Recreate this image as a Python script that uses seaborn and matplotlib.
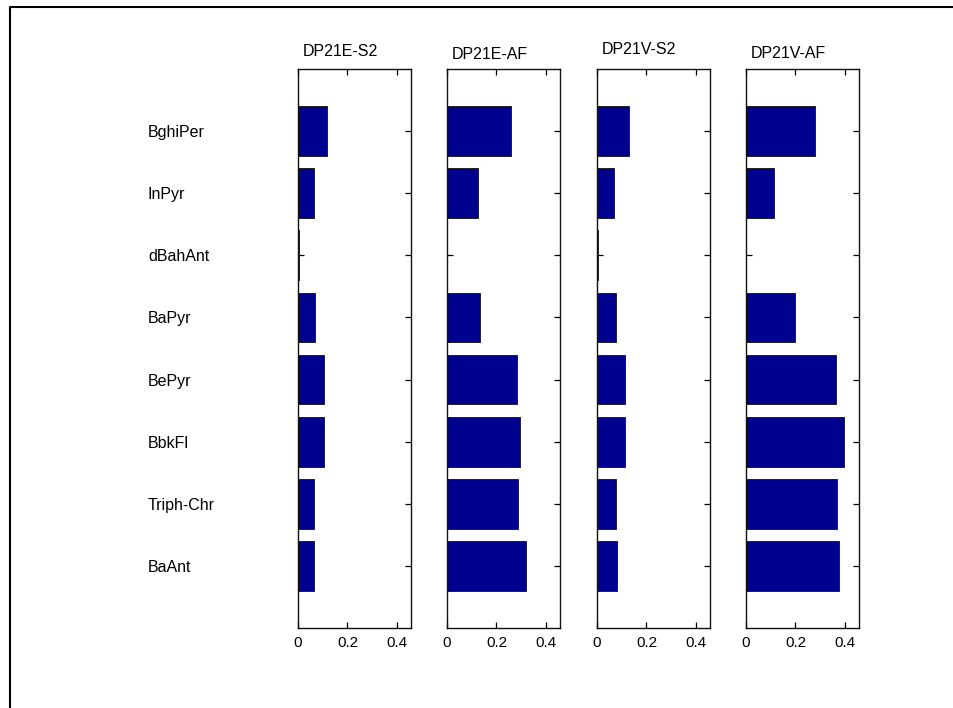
import matplotlib
matplotlib.use("Agg")
import matplotlib.pyplot as plt
from matplotlib.lines import Line2D
from matplotlib.transforms import offset_copy
import pandas as pd
import seaborn as sns

# PAH compounds, listed top to bottom
categories = ["BghiPer", "InPyr", "dBahAnt", "BaPyr", "BePyr", "BbkFl", "Triph-Chr", "BaAnt"]
samples = ["DP21E-S2", "DP21E-AF", "DP21V-S2", "DP21V-AF"]

dp21e_s2 = [0.116, 0.066, 0.004, 0.070, 0.104, 0.104, 0.066, 0.066]
dp21e_af = [0.257, 0.127, 0.000, 0.135, 0.285, 0.294, 0.287, 0.319]
dp21v_s2 = [0.130, 0.070, 0.004, 0.077, 0.113, 0.113, 0.078, 0.082]
dp21v_af = [0.278, 0.115, 0.000, 0.197, 0.362, 0.395, 0.368, 0.378]

x_ticks = [0, 0.2, 0.4]
x_ticklabels = ["0", "0.2", "0.4"]

series = [dp21e_s2, dp21e_af, dp21v_s2, dp21v_af]

sns.set_style("white")
plt.rcParams["font.family"] = ["Liberation Sans", "DejaVu Sans"]
plt.rcParams["text.color"] = "black"
plt.rcParams["xtick.color"] = "black"
plt.rcParams["ytick.color"] = "black"
plt.rcParams["xtick.labelcolor"] = "black"
plt.rcParams["ytick.labelcolor"] = "black"

W, H = 954, 708
fig = plt.figure(figsize=(W / 100, H / 100), dpi=100)
fig.patch.set_facecolor("white")

# panel geometry in pixels
lefts = [298, 447, 597, 746]
panel_w = 113
top_px, bottom_px = 69, 628
title_rise = [12.5, 10, 14.5, 11]  # pixels between top spine and title baseline

bar_color = "#00008F"

for i, (name, vals) in enumerate(zip(samples, series)):
    ax = fig.add_axes([lefts[i] / W, 1 - bottom_px / H, panel_w / W, (bottom_px - top_px) / H])
    df = pd.DataFrame({"compound": categories, "value": vals})
    sns.barplot(data=df, x="value", y="compound", orient="h", color=bar_color,
                saturation=1, width=0.8, edgecolor="#222222", linewidth=0.7, ax=ax)
    ax.set_xlim(0, 0.457)
    ax.set_ylim(len(categories), -1)
    ax.set_xlabel("")
    ax.set_ylabel("")
    ax.set_xticks(x_ticks)
    ax.set_xticklabels(x_ticklabels, fontsize=11, color="black")
    ax.tick_params(axis="both", direction="in", length=4.3, width=0.9, color="black",
                   top=True, bottom=True, left=True, right=True)
    ax.tick_params(axis="x", pad=6)
    ax.set_yticks(range(len(categories)))
    if i == 0:
        ax.set_yticklabels(categories, fontsize=11.5, ha="left", color="black")
        ax.tick_params(axis="y", pad=(298 - 148) * 0.72)
    else:
        ax.set_yticklabels([])
    for s in ax.spines.values():
        s.set_visible(True)
        s.set_color("#111111")
        s.set_linewidth(1.0)
    tr = offset_copy(ax.transAxes, fig=fig, x=4.5, y=title_rise[i], units="dots")
    ax.text(0, 1, name, transform=tr, ha="left", va="baseline", fontsize=11.5, color="black")

# outer frame lines (left and top edges)
fig.add_artist(Line2D([10 / W, 10 / W, 1.0], [0.0, 1 - 7 / H, 1 - 7 / H],
                      transform=fig.transFigure, color="black", linewidth=1.5))

fig.savefig("out.png", dpi=100, facecolor="white")
